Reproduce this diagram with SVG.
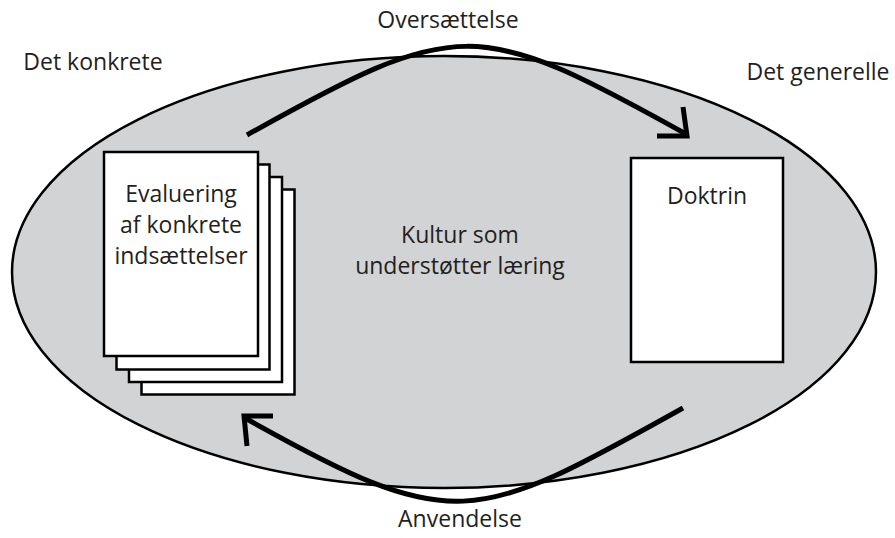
<svg xmlns="http://www.w3.org/2000/svg" width="895" height="538" viewBox="0 0 895 538">
<style>
text{font-family:"Open Sans","Noto Sans",sans-serif;font-size:23px;fill:#231f20;text-anchor:middle}
.page{fill:#fff;stroke:#000;stroke-width:2.5}
.arc{fill:none;stroke:#000;stroke-width:5}
</style>
<rect width="895" height="538" fill="#fff"/>
<g id="culture">
<ellipse cx="444" cy="272" rx="432" ry="216" fill="#d1d3d4" stroke="#000" stroke-width="2.5"/>
<text x="460" y="243">Kultur som</text>
<text x="460" y="274">understøtter læring</text>
</g>
<g id="evaluering">
<rect class="page" x="141.5" y="189.5" width="153" height="205"/>
<rect class="page" x="129" y="177" width="153" height="205"/>
<rect class="page" x="116.5" y="164.5" width="153" height="205"/>
<rect class="page" x="104" y="152" width="154" height="204"/>
<text x="181" y="202">Evaluering</text>
<text x="181" y="233">af konkrete</text>
<text x="181" y="264">indsættelser</text>
</g>
<g id="doktrin">
<rect class="page" x="631" y="158" width="152" height="204"/>
<text x="707" y="204">Doktrin</text>
</g>
<g id="labels">
<text x="93" y="70">Det konkrete</text>
<text x="818" y="80">Det generelle</text>
<text x="448" y="28">Oversættelse</text>
<text x="460" y="527">Anvendelse</text>
</g>
<g id="connectors">
<path class="arc" d="M247,135 C458,17 476,17 686,134"/>
<polyline class="arc" points="683,107 687,136 657,136"/>
<path class="arc" d="M683,408 C472,526 454,535 245,418"/>
<polyline class="arc" points="273,416 244,416 247,446"/>
</g>
</svg>
